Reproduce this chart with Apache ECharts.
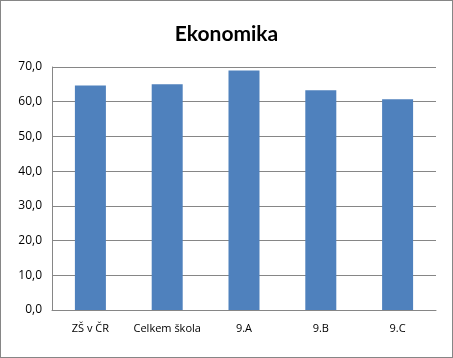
<!DOCTYPE html>
<html><head><meta charset="utf-8">
<script src="https://cdn.jsdelivr.net/npm/echarts@6/dist/echarts.min.js"></script>
<style>html,body{margin:0;padding:0;background:#fff}#c{width:453px;height:358px;box-sizing:border-box;border:1px solid #868686}</style>
</head><body><div id="c"></div>
<script>
var categories = ['ZŠ v ČR', 'Celkem škola', '9.A', '9.B', '9.C'];
var values = [64.7, 65.0, 69.0, 63.3, 60.7];
var yTicks = [0, 10, 20, 30, 40, 50, 60, 70];
var chart = echarts.init(document.getElementById('c'));
chart.setOption({
  animation: false,
  title: {text: 'Ekonomika', left: 'center', top: 18,
    textStyle: {fontFamily: 'Lato', fontWeight: 'bold', fontSize: 21, color: '#000'}},
  grid: {left: 51, right: 16, top: 66, bottom: 47},
  xAxis: {type: 'category', data: categories,
    axisLine: {lineStyle: {color: '#868686'}}, axisTick: {show: false},
    axisLabel: {interval: 0, color: '#000', fontFamily: 'Open Sans', fontSize: 11, margin: 13}},
  yAxis: {type: 'value', min: yTicks[0], max: yTicks[yTicks.length-1], interval: 10,
    axisLine: {show: true, lineStyle: {color: '#868686'}}, axisTick: {show: false},
    splitLine: {lineStyle: {color: '#868686'}},
    axisLabel: {color: '#000', fontFamily: 'Open Sans', fontSize: 12, margin: 10,
      formatter: function(v){ return v.toFixed(1).replace('.', ','); }}},
  series: [{type: 'bar', data: values, barWidth: 31, itemStyle: {color: '#4f81bd'}}]
});
</script></body></html>
